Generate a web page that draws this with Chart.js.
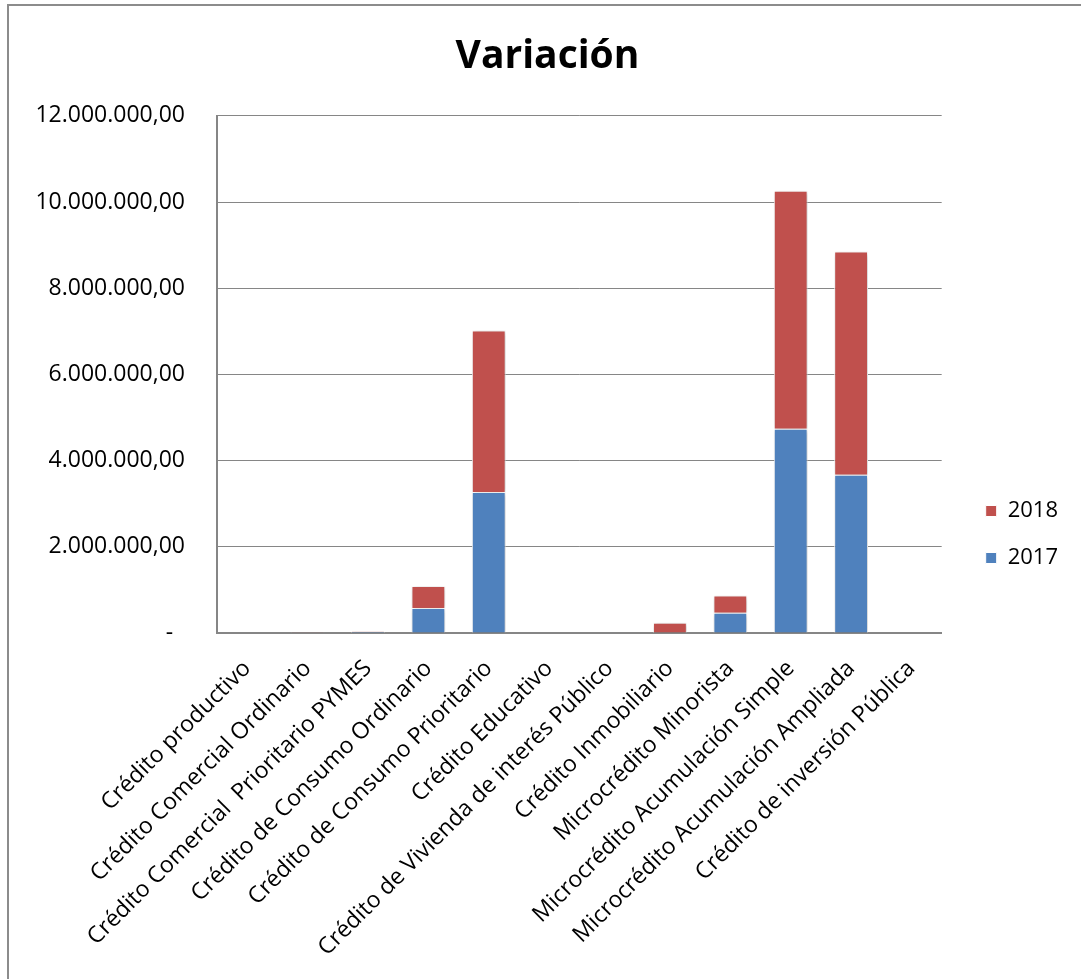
<!DOCTYPE html>
<html>
<head>
<meta charset="utf-8">
<script src="https://cdn.jsdelivr.net/npm/chart.js@4"></script>
<style>
  html, body { margin: 0; background: #fff; }
  #wrap { position: relative; width: 1081px; height: 979px; }
</style>
</head>
<body>
<div id="wrap"><canvas id="variacion"></canvas></div>
<script>
const categorias = [
  "Crédito productivo",
  "Crédito Comercial Ordinario",
  "Crédito Comercial  Prioritario PYMES",
  "Crédito de Consumo Ordinario",
  "Crédito de Consumo Prioritario",
  "Crédito Educativo",
  "Crédito de Vivienda de interés Público",
  "Crédito Inmobiliario",
  "Microcrédito Minorista",
  "Microcrédito Acumulación Simple",
  "Microcrédito Acumulación Ampliada",
  "Crédito de inversión Pública",
];
const valores2017 = [0, 10000, 30000, 580000, 3270000, 0, 0, 0, 470000, 4740000, 3670000, 0];
const valores2018 = [0, 10000, 10000, 510000, 3750000, 0, 0, 240000, 400000, 5520000, 5180000, 0];
const ejeY = { min: 0, max: 12000000, paso: 2000000 };

const gris = "#868686";

function formatoMonto(v) {
  if (v === 0) return "-  ";
  const entero = Math.round(v).toString().replace(/\B(?=(\d{3})+(?!\d))/g, ".");
  return entero + ",00";
}

// sombra suave de las barras, como en Excel
const sombra = {
  id: "sombra",
  beforeDatasetsDraw(chart) {
    const ctx = chart.ctx;
    ctx.save();
    ctx.shadowColor = "rgba(0,0,0,0.28)";
    ctx.shadowBlur = 5;
    ctx.shadowOffsetX = 1;
    ctx.shadowOffsetY = 1;
  },
  afterDatasetsDraw(chart) {
    chart.ctx.restore();
  },
};

// marco exterior gris
const marco = {
  id: "marco",
  afterDraw(chart) {
    const ctx = chart.ctx;
    ctx.save();
    ctx.strokeStyle = "#8c8c8c";
    ctx.lineWidth = 2;
    ctx.strokeRect(8, 5, 2000, 2000);
    ctx.restore();
  },
};

new Chart(document.getElementById("variacion"), {
  type: "bar",
  data: {
    labels: categorias,
    datasets: [
      {
        label: "2017",
        data: valores2017,
        backgroundColor: "#4F81BD",
        borderColor: "#ffffff",
        borderWidth: 1,
      },
      {
        label: "2018",
        data: valores2018,
        backgroundColor: "#C0504D",
        borderColor: "#ffffff",
        borderWidth: 1,
      },
    ],
  },
  options: {
    responsive: true,
    maintainAspectRatio: false,
    animation: false,
    categoryPercentage: 1,
    barPercentage: 0.56,
    layout: {
      padding: { left: 27, right: 13, top: 0, bottom: 26 },
    },
    plugins: {
      title: {
        display: true,
        text: "Variación",
        color: "#000",
        font: { family: "Open Sans", size: 39, weight: "bold" },
        padding: { top: 33, bottom: 36 },
      },
      legend: {
        position: "right",
        reverse: true,
        // título vacío: sólo baja las entradas de la leyenda
        title: {
          display: true,
          text: " ",
          font: { size: 10, lineHeight: 1 },
          padding: { top: 0, bottom: 106 },
        },
        labels: {
          boxWidth: 11,
          boxHeight: 11,
          padding: 25,
          color: "#000",
          font: { family: "Open Sans", size: 22 },
        },
      },
      tooltip: { enabled: false },
    },
    scales: {
      x: {
        stacked: true,
        grid: { display: false },
        border: { color: gris, width: 2 },
        ticks: {
          autoSkip: false,
          minRotation: 45,
          maxRotation: 45,
          color: "#000",
          padding: 14,
          font: { family: "Open Sans", size: 23 },
        },
        afterFit(scale) {
          scale.height = 320;
        },
      },
      y: {
        stacked: true,
        min: ejeY.min,
        max: ejeY.max,
        grid: { color: gris, lineWidth: 1, drawTicks: false },
        border: { color: gris, width: 2 },
        ticks: {
          stepSize: ejeY.paso,
          padding: 32,
          color: "#000",
          font: { family: "Open Sans", size: 23 },
          callback: (v) => formatoMonto(v),
        },
        afterFit(scale) {
          scale.width = 190;
        },
      },
      hueco: {
        position: "right",
        display: true,
        grid: { display: false },
        border: { display: false },
        ticks: { display: false },
        afterFit(scale) {
          scale.width = 19;
        },
      },
    },
  },
  plugins: [sombra, marco],
});
</script>
</body>
</html>
